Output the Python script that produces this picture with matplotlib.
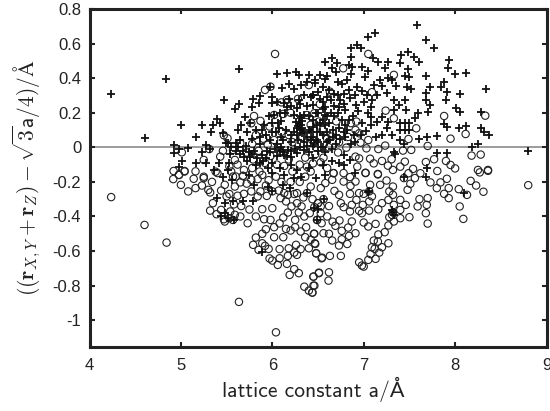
import matplotlib
matplotlib.use('Agg')
import matplotlib.pyplot as plt
import numpy as np

plt.rcParams['font.family'] = ['Liberation Sans', 'DejaVu Sans']
plt.rcParams['mathtext.fontset'] = 'cm'

# values (lattice constant, deviation)
plus_points = [
    (4.24,.309),(4.84,.396),(4.61,.052),(5.635,.454),(5.47,.276),(5.64,.251),(5.59,.22),(5.0,.127),(5.23,.127),(5.35,.127),
    (5.39,.162),(5.43,.139),(5.33,.087),(5.16,.062),(5.46,.081),(4.92,.015),(4.92,-.035),(5.08,-.006),(4.98,-.01),(5.27,.014),
    (5.32,-.01),(5.23,-.025),(5.01,-.077),(5.16,-.089),(5.28,-.093),(4.98,-.112),(5.49,.023),(5.65,.042),(5.70,.174),(5.78,.236),
    (5.79,.28),(5.87,.297),(5.85,.255),(5.98,.351),(6.0,.293),(6.05,.425),(6.16,.429),(6.26,.438),(6.29,.419),(6.4,.419),
    (6.38,.38),(6.47,.39),(6.11,.345),(6.18,.365),(6.24,.336),(6.31,.361),(6.44,.303),(6.29,.274),
    (7.58,.71),(7.68,.618),(7.77,.577),(7.12,.66),(7.05,.637),(6.93,.593),(6.856,.573),(6.965,.573),(6.856,.525),(6.575,.496),
    (6.655,.515),(6.71,.486),(6.655,.457),(6.7,.438),(6.84,.477),(6.87,.467),(6.856,.425),(6.98,.467),(7.045,.442),(7.1,.515),
    (7.155,.496),(7.27,.496),(7.23,.461),(7.41,.535),(7.4,.49),(7.487,.554),(7.55,.525),(7.61,.496),(7.48,.454),(7.45,.415),
    (7.5,.405),(7.685,.413),(7.93,.506),(7.925,.457),(8.0,.425),(8.115,.429),(7.88,.38),(7.85,.347),(7.907,.322),(7.73,.347),
    (7.685,.317),(7.68,.274),(7.725,.245),(7.895,.274),(8.05,.307),(8.335,.336),(8.01,.226),(8.05,.207),(8.287,.207),(7.70,.207),
    (7.59,.2),(7.557,.168),(7.475,.347),(7.52,.336),(7.88,.133),(7.907,.116),(8.04,.11),(8.12,.124),(8.28,.11),(8.32,.091),
    (8.37,.071),(7.805,.066),(7.695,.062),(7.61,.048),(7.4,.042),(7.44,.019),(8.25,.019),(8.19,.004),(8.8,-.021),(7.805,-.035),
    (7.915,-.035),(7.69,-.12),(7.33,-.03),(7.34,-.04),(7.4,.14),(7.45,.14),(7.5,.14),(7.4,.1),(7.45,.1),(7.5,.1),
    (7.33,.274),(7.385,.245),(7.45,.274),(7.46,.216),(7.33,.216),(7.26,.313),(7.2,.355),(7.265,.4),(7.31,.39),(7.35,.355),
    (7.177,.39),(7.11,.361),(7.01,.409),(6.93,.347),(6.985,.328),(7.04,.303),(7.15,.303),(7.09,.274),(7.075,.236),(7.0,.264),
    (6.92,.245),(6.85,.284),(6.78,.307),(6.745,.274),(6.72,.38),(6.765,.365),(6.82,.39),(6.58,.394),(6.47,.37),(6.447,.303),
    (6.6,.293),(6.64,.274),(6.45,.245),(6.58,.236),(6.8,.216),(6.73,.236),(7.045,.197),(7.075,.178),(7.15,.149),(7.2,.178),
    (7.075,.129),(7.02,.095),(7.195,.071),(7.13,.058),(7.26,.11),(7.31,.071),(7.265,.149),(6.49,.129),(6.49,.091),(6.73,.11),
    (6.8,.129),(6.58,.187),(6.58,.129),(6.89,.071),(6.965,.071),(6.8,.062),(6.49,.042),(6.42,.042),(6.78,-.044),(6.855,-.073),
    (6.73,-.093),(6.78,-.102),(6.58,-.16),(6.91,-.15),(7.44,-.17),(7.68,-.17),
    (5.51,.023),(5.6,.023),(5.71,.01),(5.53,-.093),(5.51,-.131),(5.69,-.054),(5.76,-.054),(5.89,-.044),(5.87,-.093),(6.0,-.093),
    (6.0,-.15),(6.13,-.16),(6.27,-.131),(6.31,-.17),(5.89,.1),(5.91,.129),(6.0,.091),(6.07,.11),(5.87,.062),(6.09,.062),
    (6.02,.187),(6.16,.236),(6.27,.226),(6.0,.255),(6.05,.264),(6.13,.255),(6.24,.187),(6.35,.187),
    (6.31,.128),(6.26,.149),(6.27,.11),(6.35,.091),(6.31,.168),(6.29,.139),(6.32,.15),(6.28,.125),
    (6.33,.11),(6.3,.1),(6.3,.18),
    (6.42,.042),(6.46,.019),(6.53,.004),(6.1,.0),(6.17,-.015),(6.21,-.054),(6.13,-.044),(6.27,-.035),(6.35,-.015),
    (6.42,.09),(6.45,.06),(6.5,.03),(6.55,.07),(6.6,.03),(6.65,-.01),(6.7,.02),(6.55,.16),(6.62,.14),(6.68,.18),
    (6.4,.18),(6.5,.2),(6.55,.26),(6.42,.29),(6.5,.32),(6.55,.35),(5.6,-.02),(5.65,-.04),(5.72,-.08),(5.8,-.02),
    (5.82,-.1),(5.94,-.02),(6.05,-.05),(5.95,-.12),(6.08,-.12),(6.2,-.1),(6.4,-.12),(6.45,-.06),(6.55,-.1),(6.65,-.08),
    (6.12,.04),(6.2,.03),(6.28,.04),(6.35,.03),(6.05,.02),(5.98,.04),(6.15,.1),(6.2,.07),(6.1,.15),(6.45,.12),
    (5.96,.18),(6.08,.2),(6.18,.28),(6.35,.3),(6.38,.24),(6.3,.25),(5.48,-.38),(5.44,-.4),(5.52,-.41),(5.58,-.42),
    (5.40,-.294),(5.48,-.323),(5.57,-.313),(5.68,-.308),(5.79,-.313),(5.89,-.603),(5.95,-.227),(6.0,-.255),(6.19,-.236),(6.38,-.265),
    (6.46,-.352),(7.05,-.26),(7.06,-.25),(7.32,-.377),(7.33,-.39),(7.31,-.36),(8.1,-.265),(6.57,-.3),(6.5,-.358),(6.49,-.42),
    (5.55,.0),(5.62,.0),(5.68,-.02),(5.74,-.03),(5.78,-.04),(5.83,-.06),(5.9,-.08),(5.93,-.06),(5.97,-.03),(6.03,-.01),
    (6.08,-.02),(6.12,-.03),(6.16,-.05),(6.2,-.02),(6.25,-.01),(6.3,.0),(6.38,.01),(6.4,-.03),(6.45,.01),(6.5,-.02),
    (6.55,.0),(6.58,-.03),(6.62,.04),(6.66,.06),(6.7,.07),(6.74,.05),(6.78,.09),(6.82,.1),(6.86,.02),(6.9,.03),
    (6.45,.16),(6.48,.2),(6.52,.14),(6.56,.22),(6.6,.18),(6.64,.2),(6.68,.24),(6.72,.2),(6.76,.16),(6.4,.1),
    (6.38,.06),(6.24,.09),(6.2,.24),(6.14,.2),(6.06,.14),(6.04,.09),(5.93,.07),(6.0,.14),(5.82,.1),
    (5.78,.05),(5.86,.02),(6.32,.08),(6.27,.07),
    (6.88,.18),(6.94,.21),(6.98,.14),(6.84,.33),(6.9,.3),(6.62,.33),(6.68,.31),(6.52,.42),(6.6,.41),(6.52,.28),
    (6.72,.3),(6.78,.25),(6.66,.1),(6.6,.09),(6.52,.09),(6.84,.16),(5.62,.1),(5.72,.09),(5.76,.14),(5.66,.13),
    (5.54,-.04),(5.42,-.09),(5.36,-.13),(5.46,-.17),(5.56,-.19),(5.74,-.16),(5.8,-.22),(6.12,-.22),(6.24,-.18),(6.48,-.18),
]

circle_points = [
    (4.237,-.288),(4.602,-.449),(4.843,-.551),(5.635,-.894),(6.04,-1.07),(4.916,-.184),(4.978,-.159),(5.04,-.14),(5.14,-.182),(5.0,-.217),
    (5.08,-.255),(5.16,-.236),(5.23,-.221),(5.25,-.178),(5.3,-.246),(5.32,-.261),(5.40,-.149),(5.48,-.217),(5.5,-.284),(5.35,-.323),
    (5.32,-.366),(5.39,-.387),(5.44,-.362),(5.47,-.416),(5.48,-.429),(5.53,-.41),(5.57,-.42),(5.59,-.39),(5.65,-.40),(5.73,-.439),
    (5.54,-.371),(5.6,-.169),(5.59,-.227),(5.69,-.269),(5.77,-.255),(5.84,-.284),(5.89,-.358),(6.0,-.352),(5.91,-.416),(5.93,-.474),
    (6.02,-.462),(5.89,-.5),(5.82,-.522),(5.89,-.555),(5.79,-.564),(5.92,-.57),(5.96,-.588),(5.85,-.593),(6.08,-.589),(6.18,-.584),
    (6.26,-.564),(6.31,-.589),(6.24,-.609),(6.27,-.622),(6.17,-.628),(6.08,-.642),(5.97,-.643),(6.0,-.655),(6.06,-.68),(6.16,-.674),
    (6.24,-.705),(6.29,-.728),(6.19,-.738),(6.51,-.728),(6.45,-.748),(6.35,-.806),(6.45,-.8),(6.4,-.829),(6.44,-.84),(6.4,-.584),
    (6.42,-.535),(6.47,-.559),(6.48,-.613),(6.54,-.642),(6.46,-.5),(6.37,-.462),(6.31,-.487),(6.25,-.462),(6.2,-.481),(6.15,-.472),
    (6.12,-.406),(6.17,-.377),(6.21,-.342),(6.27,-.323),(6.29,-.377),(6.32,-.342),(6.41,-.381),(6.46,-.346),(6.49,-.42),(6.5,-.323),
    (6.09,-.294),(6.15,-.313),(6.17,-.275),(6.13,-.265),(6.27,-.265),(6.38,-.265),(6.42,-.227),(5.93,-.221),(5.87,-.255),(5.94,-.281),
    (6.0,-.255),(5.77,-.188),(5.65,-.203),(5.68,-.165),(5.57,-.169),(5.84,-.184),
    (8.80,-.219),(8.31,-.257),(8.23,-.221),(8.17,-.194),(8.27,-.145),(8.36,-.136),(8.13,-.275),(8.04,-.242),(8.05,-.342),(8.09,-.414),
    (7.93,-.294),(7.88,-.269),(7.93,-.236),(7.91,-.182),(7.84,-.203),(7.8,-.236),(7.73,-.203),(7.70,-.294),(7.61,-.3),(7.69,-.333),
    (7.59,-.342),(7.68,-.381),(7.70,-.441),(7.5,-.404),(7.46,-.333),(7.4,-.304),(7.48,-.246),(7.51,-.211),(7.44,-.178),(7.56,-.178),
    (7.32,-.227),(7.28,-.255),(7.32,-.275),(7.27,-.304),(7.2,-.323),(7.16,-.358),(7.33,-.333),(7.4,-.362),(7.32,-.377),(7.31,-.391),
    (7.28,-.404),(7.33,-.429),(7.4,-.41),(7.27,-.452),(7.23,-.491),(7.16,-.504),(7.13,-.443),(7.05,-.458),(7.0,-.435),(7.06,-.366),
    (6.98,-.381),(6.95,-.367),(6.99,-.333),(7.06,-.313),(6.92,-.304),(6.85,-.269),(7.0,-.269),(7.06,-.255),(6.95,-.265),(7.09,-.284),
    (7.07,-.217),(7.18,-.217),(7.25,-.192),(7.155,-.157),(7.02,-.149),(6.91,-.198),(6.855,-.223),(6.78,-.198),(6.68,-.252),(6.73,-.275),
    (6.75,-.323),(6.78,-.346),(6.85,-.371),(6.87,-.333),(6.735,-.423),(6.69,-.454),(6.87,-.429),(6.83,-.464),(6.76,-.483),(6.91,-.497),
    (6.84,-.512),(6.76,-.532),(6.82,-.559),(6.73,-.568),(6.655,-.539),(6.56,-.497),(6.455,-.5),(6.465,-.555),(6.48,-.613),(6.545,-.638),
    (6.63,-.628),(6.75,-.628),(6.95,-.665),(7.0,-.69),(6.98,-.684),(7.05,-.651),(7.075,-.618),(7.13,-.645),(7.17,-.609),(7.09,-.578),
    (7.12,-.587),(7.2,-.578),(7.11,-.539),(7.155,-.545),(7.27,-.555),(6.62,-.723),(6.51,-.725),(6.615,-.771),(6.45,-.748),(6.46,-.8),
    (6.436,-.84),(6.53,-.342),(6.56,-.3),(6.5,-.323),(6.53,-.381),(6.49,-.42),(6.54,-.439),(6.53,-.236),(6.58,-.207),(6.655,-.188),
    (6.78,-.149),(6.67,-.149),(6.85,-.172),
    (7.05,.54),(6.776,.457),(6.63,.322),(7.09,.319),(7.33,.419),(7.24,.212),(7.33,.168),(6.92,.149),(6.91,.1),(6.95,.081),
    (7.05,.042),(6.965,.027),(7.03,-.006),(7.235,.01),(7.16,-.01),(7.49,.048),(7.575,.11),(7.88,.181),(8.33,.183),(8.115,.077),
    (7.95,.05),(7.7,.008),(7.52,-.015),(8.18,-.048),(8.28,-.042),(7.43,-.019),(7.45,-.083),(7.305,-.069),(7.2,-.079),(7.265,-.106),
    (7.11,-.093),(7.07,-.066),(6.95,-.064),(6.93,-.112),(6.91,-.054),(7.4,-.112),(7.32,-.131),(7.54,-.125),(7.68,-.085),(7.77,-.069),
    (7.9,-.079),(7.95,-.102),(8.0,-.122),(7.805,-.137),(7.62,-.15),(8.25,-.131),(8.36,-.131),(7.02,-.147),(7.155,-.154),(7.49,-.15),
    (6.67,-.15),(6.53,-.087),(6.445,-.093),(6.73,.029),(6.65,.062),(6.81,-.002),(6.436,.042),
    (6.03,.54),(5.8,.181),(5.77,.139),(5.87,.153),(5.92,.332),(5.82,.071),(5.98,.351),(6.12,.193),(6.02,.187),(6.16,.274),
    (5.01,-.029),(5.43,-.054),(5.51,.052),(5.57,-.015),(5.59,-.073),(5.25,-.073),(4.92,-.137),(5.04,-.137),(5.16,-.139),(4.98,-.16),
    (5.38,-.141),(5.69,-.131),(5.68,-.166),(5.89,-.16),(6.13,-.108),(5.95,.014),(6.02,.042),(6.18,.071),(6.38,.187),(6.46,.197),
    (6.51,.149),(6.38,-.112),(5.47,.07),(5.31,-.01),(5.65,.023),(5.25,-.17),
    (5.46,-.02),(5.53,-.11),(5.55,-.14),(5.62,-.1),(5.72,-.03),(5.79,-.07),(5.85,-.02),(5.92,-.09),(5.98,-.05),(6.05,-.1),
    (6.1,-.03),(6.18,-.07),(6.22,-.14),(6.3,-.1),(6.36,-.06),(6.42,-.14),(6.47,-.04),(6.56,-.06),(6.6,-.12),(6.62,.0),
    (6.04,-.17),(6.1,-.2),(6.2,-.2),(6.3,-.2),(6.36,-.17),(5.97,.12),(6.1,.09),(6.22,.03),(6.33,.06),(6.42,.13),
    (6.55,.1),(6.6,.05),(6.72,-.03),(6.83,.06),(6.86,.14),(6.7,.15),(6.52,.25),(6.2,.2),(5.9,.05),(5.78,.02),
    (5.34,-.2),(5.44,-.25),(5.53,-.27),(5.62,-.28),(5.72,-.21),(5.78,-.12),(5.86,-.14),(5.96,-.19),(6.07,-.25),(6.24,-.27),
    (6.34,-.29),(6.44,-.3),(6.25,-.42),(6.35,-.4),(6.36,-.52),(5.58,-.33),(5.66,-.34),(5.75,-.36),(5.82,-.4),(5.98,-.42),
    (6.02,-.52),(6.12,-.52),(6.08,-.44),(6.6,-.4),(6.62,-.34),(6.66,-.43),(6.62,-.5),(6.28,.28),(6.1,.26),(6.4,.36),
]

x_ticks = [4, 5, 6, 7, 8, 9]
x_labels = ['4', '5', '6', '7', '8', '9']
y_ticks = [-1, -0.8, -0.6, -0.4, -0.2, 0, 0.2, 0.4, 0.6, 0.8]
y_labels = ['-1', '-0.8', '-0.6', '-0.4', '-0.2', '0', '0.2', '0.4', '0.6', '0.8']

plus_x, plus_y = np.array(plus_points).T
circle_x, circle_y = np.array(circle_points).T

fig = plt.figure(figsize=(5.5, 4.11), dpi=100)
ax = fig.add_axes([89.5/550, 1-347/411, (546.5-89.5)/550, (347-9)/411])

ax.axhline(0, color='#808080', lw=1.1, zorder=1)
ax.scatter(circle_x, circle_y, s=28, facecolors='none', edgecolors='#222222', linewidths=0.8, zorder=2)
ax.scatter(plus_x, plus_y, s=33, marker='+', color='#111111', linewidths=1.3, zorder=3)

ax.set_xlim(4, 9)
ax.set_ylim(-1.155, 0.8)
ax.set_xticks(x_ticks, x_labels)
ax.set_yticks(y_ticks, y_labels)
ax.tick_params(direction='in', top=True, right=True, length=3.5, width=1.5, labelsize=12, colors='#222222', pad=6)
ax.tick_params(axis='x', pad=8)
for s in ax.spines.values():
    s.set_linewidth(2.2)
    s.set_color('#222222')

ax.set_xlabel('lattice constant a/Å', family=['cmss10', 'Lato'], fontsize=15.5, color='#222222', labelpad=3, x=0.49)
ax.set_ylabel(r'$((\mathbf{r}_{X,Y}+\mathbf{r}_{Z})-\sqrt{3}\mathsf{a}/4)/\mathsf{\AA}$', fontsize=15.5, color='#222222', labelpad=7)

fig.savefig('out.png', dpi=100)
